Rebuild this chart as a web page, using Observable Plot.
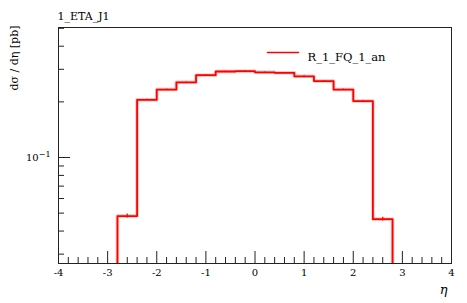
<!DOCTYPE html>
<html>
<head>
<meta charset="utf-8">
<script src="https://cdn.jsdelivr.net/npm/d3@7"></script>
<script src="https://cdn.jsdelivr.net/npm/@observablehq/plot@0.6"></script>
<style>
  html, body { margin: 0; padding: 0; background: white; }
</style>
</head>
<body>
<div id="chart"></div>
<script>
// Bin edges (eta) and cross-section values (pb)
const binEdges = [-2.8, -2.4, -2.0, -1.6, -1.2, -0.8, -0.4, 0.0, 0.4, 0.8, 1.2, 1.6, 2.0, 2.4, 2.8];
const binValues = [0.0482, 0.205, 0.233, 0.255, 0.279, 0.292, 0.293, 0.289, 0.287, 0.275, 0.259, 0.233, 0.202, 0.0464];
const binErrors = [0.0012, 0.0015, 0.0015, 0.0015, 0.0015, 0.0015, 0.0015, 0.0015, 0.0015, 0.0015, 0.0015, 0.0015, 0.0015, 0.0011];
const xMajorTicks = [-4, -3, -2, -1, 0, 1, 2, 3, 4];
const xMinorTicks = [-3.8, -3.6, -3.4, -3.2, -2.8, -2.6, -2.4, -2.2, -1.8, -1.6, -1.4, -1.2, -0.8, -0.6, -0.4, -0.2,
                     0.2, 0.4, 0.6, 0.8, 1.2, 1.4, 1.6, 1.8, 2.2, 2.4, 2.6, 2.8, 3.2, 3.4, 3.6, 3.8];
const yMajorTicks = [0.1];
const yMinorTicks = [0.03, 0.04, 0.05, 0.06, 0.07, 0.08, 0.09, 0.2, 0.3, 0.4, 0.5];
const yDomain = [0.0267, 0.505];
const baseline = 0.01; // below the visible range; the step drops to the frame edge
const title = "1_ETA_J1";
const seriesName = "R_1_FQ_1_an";
const yLabel = "dσ / dη [pb]";
const xLabel = "η";

// Build step line points
const stepPts = [{x: binEdges[0], y: baseline}];
binValues.forEach((v, i) => stepPts.push({x: binEdges[i], y: v}));
stepPts.push({x: binEdges[binEdges.length - 1], y: baseline});

const errData = binValues.map((v, i) => ({
  x: (binEdges[i] + binEdges[i + 1]) / 2, lo: v - binErrors[i], hi: v + binErrors[i]
}));

const W = 467, H = 303, mL = 58, mR = 16, mT = 27, mB = 40;
const fw = W - mL - mR, fh = H - mT - mB;
const serif = "DejaVu Serif";

const legendLine = {
  draw(context, l) { context.moveTo(0, 0); context.lineTo(0, -l); }
};

const chart = Plot.plot({
  width: W, height: H,
  marginLeft: mL, marginRight: mR, marginTop: mT, marginBottom: mB,
  x: {domain: [-4, 4]},
  y: {type: "log", domain: yDomain},
  style: {fontFamily: serif, fontSize: "12px", background: "white", color: "black"},
  marks: [
    Plot.ruleX(xMajorTicks, {x: d => d, insetTop: fh - 12, stroke: "#222"}),
    Plot.ruleX(xMinorTicks, {x: d => d, insetTop: fh - 6, stroke: "#222"}),
    Plot.ruleY(yMajorTicks, {y: d => d, insetRight: fw - 12, stroke: "#222"}),
    Plot.ruleY(yMinorTicks, {y: d => d, insetRight: fw - 6, stroke: "#222"}),
    Plot.axisX({ticks: xMajorTicks, tickSize: 0, tickPadding: 5, tickFormat: d => String(d), label: null, fontSize: 10, fontFamily: serif}),
    Plot.axisY({ticks: yMajorTicks, tickSize: 0, tickPadding: 8, tickFormat: () => "10", label: null, fontSize: 10, fontFamily: serif}),
    Plot.line(stepPts, {x: "x", y: "y", curve: "step-after", stroke: "#ff3b30", strokeWidth: 3.5, strokeOpacity: 0.3, clip: true}),
    Plot.line(stepPts, {x: "x", y: "y", curve: "step-after", stroke: "#ff0000", strokeWidth: 1.8, clip: true}),
    Plot.ruleX(errData, {x: "x", y1: "lo", y2: "hi", stroke: "#ff0000", strokeWidth: 1.2}),
    Plot.frame({stroke: "#222", strokeWidth: 1}),
    Plot.vector([0], {frameAnchor: "top-left", dx: 267 - mL, dy: 52 - mT, rotate: 90, length: 31, anchor: "start",
                      shape: legendLine, stroke: "#ff0000", strokeWidth: 1.5}),
    Plot.text([seriesName], {frameAnchor: "top-left", dx: 307 - mL, dy: 52 - mT, textAnchor: "start", fontSize: 11.5, fontFamily: serif}),
    Plot.text([title], {frameAnchor: "top-left", dx: -1, dy: -15, textAnchor: "start", fontSize: 11, fontFamily: serif}),
    Plot.text([yLabel], {frameAnchor: "top-left", dx: 10 - mL, dy: -2, rotate: -90, textAnchor: "end", fontSize: 11, fontFamily: serif}),
    Plot.text([xLabel], {frameAnchor: "bottom-right", dx: -4, dy: 30, fontSize: 13, fontStyle: "italic", fontFamily: serif})
  ]
});

// superscript exponent for the y tick label
d3.select(chart).selectAll('g[aria-label="y-axis tick label"] text').each(function() {
  const t = d3.select(this);
  t.text(null);
  t.append("tspan").text("10");
  t.append("tspan").attr("dy", "-0.45em").attr("font-size", "8px").text("−1");
});

document.getElementById("chart").appendChild(chart);
</script>
</body>
</html>
